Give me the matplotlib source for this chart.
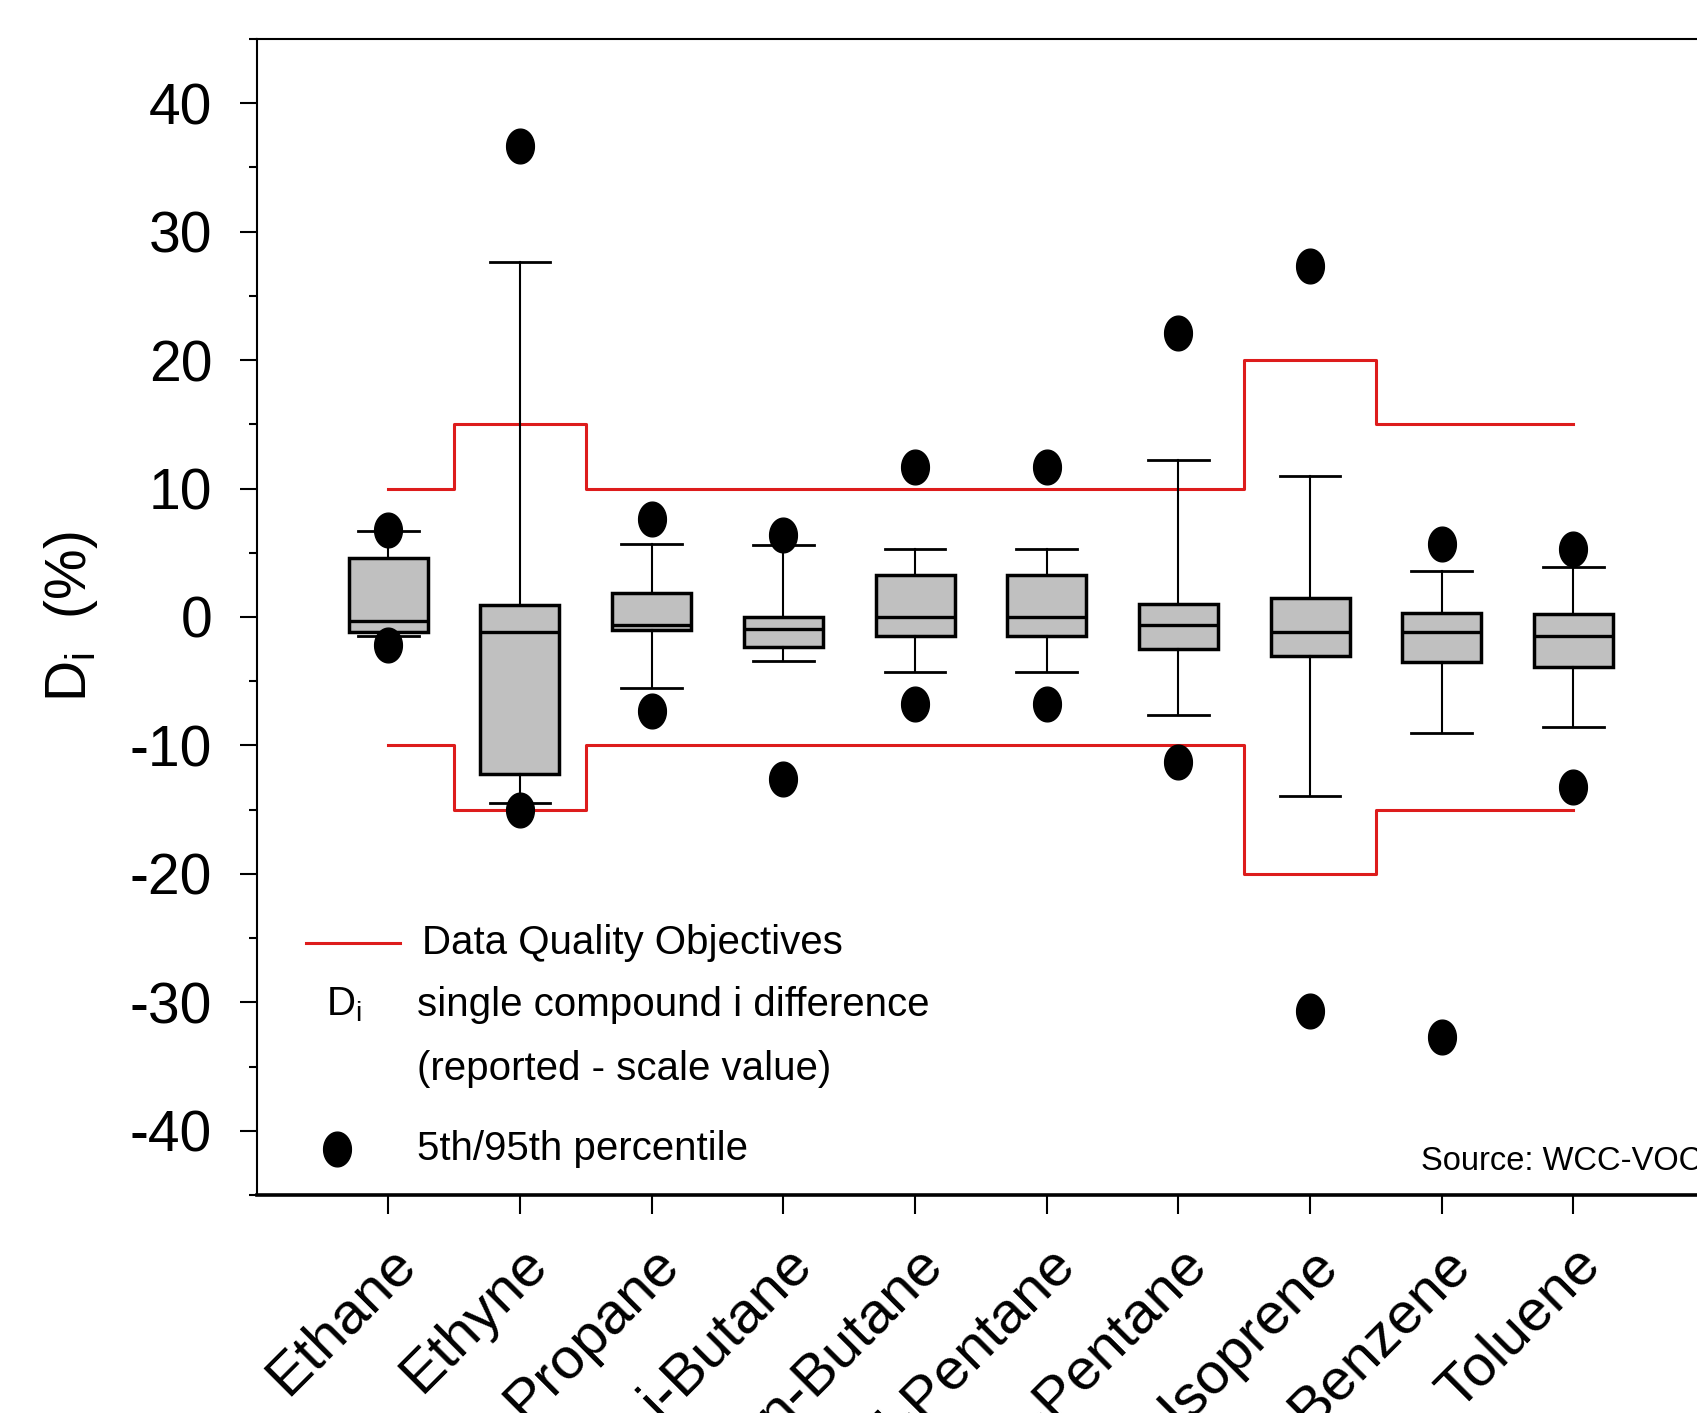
import numpy as np
import matplotlib
matplotlib.use("Agg")
import matplotlib.pyplot as plt
from matplotlib import font_manager
from matplotlib.path import Path
from matplotlib.ticker import MultipleLocator

compounds = ["Ethane", "Ethyne", "Propane", "i-Butane", "n-Butane",
             "i-Pentane", "n-Pentane", "Isoprene", "Benzene", "Toluene"]
whis_lo = [-1.5, -14.5, -5.5, -3.4, -4.3, -4.3, -7.6, -13.9, -9.0, -8.6]
q1 = [-1.2, -12.2, -1.0, -2.3, -1.5, -1.5, -2.5, -3.0, -3.5, -3.9]
median = [-0.3, -1.2, -0.6, -0.9, 0.0, 0.0, -0.6, -1.2, -1.2, -1.5]
q3 = [4.6, 0.9, 1.9, 0.0, 3.3, 3.3, 1.0, 1.5, 0.3, 0.2]
whis_hi = [6.7, 27.6, 5.7, 5.6, 5.3, 5.3, 12.2, 11.0, 3.6, 3.9]
p5 = [-2.2, -15.0, -7.3, -12.6, -6.8, -6.8, -11.3, -30.7, -32.7, -13.2]
p95 = [6.8, 36.7, 7.6, 6.4, 11.7, 11.7, 22.1, 27.3, 5.7, 5.3]
dqo = [10, 15, 10, 10, 10, 10, 10, 20, 15, 15]

names = {f.name for f in font_manager.fontManager.ttflist}
narrow = "Liberation Sans Narrow" if "Liberation Sans Narrow" in names else None
plt.rcParams["font.family"] = ["Liberation Sans", "DejaVu Sans"]
plt.rcParams["axes.unicode_minus"] = False
legfont = dict(family=[narrow, "DejaVu Sans"], fontsize=35) if narrow else dict(fontsize=29)
srcfont = dict(family=[narrow, "DejaVu Sans"], fontsize=28) if narrow else dict(fontsize=23.5)

red = "#dd1c1c"
t = np.linspace(0, 2 * np.pi, 60)
dot = Path(np.column_stack([0.8 * np.cos(t), np.sin(t)]))

fig = plt.figure(figsize=(16.97, 14.13), dpi=100)
ax = fig.add_axes([0.1512, 0.1543, 0.8536, 0.8181])

pos = np.arange(1, len(compounds) + 1)
stats = [dict(med=median[i], q1=q1[i], q3=q3[i], whislo=whis_lo[i], whishi=whis_hi[i],
              fliers=[p5[i], p95[i]]) for i in range(len(compounds))]
ax.bxp(stats, positions=pos, widths=0.6, capwidths=0.46, patch_artist=True,
       boxprops=dict(facecolor="#c0c0c0", edgecolor="black", linewidth=2.5),
       medianprops=dict(color="black", linewidth=2.4),
       whiskerprops=dict(color="black", linewidth=1.5),
       capprops=dict(color="black", linewidth=2.0),
       flierprops=dict(marker=dot, markersize=25, markerfacecolor="black",
                       markeredgecolor="black", linestyle="none"),
       zorder=3)

ax.step(pos, dqo, where="mid", color=red, lw=2.2, zorder=2)
ax.step(pos, -np.array(dqo), where="mid", color=red, lw=2.2, zorder=2)

ax.set_xlim(0, 11)
ax.set_ylim(-45, 45)
ax.set_xticks(pos)
ax.set_xticklabels(compounds, rotation=45, ha="right", va="top",
                   rotation_mode="anchor", fontsize=42)
ax.yaxis.set_major_locator(MultipleLocator(10))
ax.yaxis.set_minor_locator(MultipleLocator(5))
ax.tick_params(axis="y", which="major", length=12, width=1.5, labelsize=41, pad=20)
ax.tick_params(axis="y", which="minor", length=6, width=1.5)
ax.tick_params(axis="x", length=14, width=1.5, pad=16)
ax.spines["right"].set_visible(False)
ax.spines["left"].set_linewidth(1.5)
ax.spines["top"].set_linewidth(1.5)
ax.spines["bottom"].set_linewidth(2.6)

ax.set_ylabel(r"D$_\mathregular{i}$  (%)", fontsize=41)
ax.yaxis.set_label_coords(-0.108, 0.5)

# legend drawn by hand
ax.plot([0.375, 1.09], [-25.4, -25.4], color=red, lw=2.2)
ax.text(1.255, -25.4, "Data Quality Objectives", va="center", **legfont)
ax.text(0.53, -30.2, r"D$_\mathregular{i}$", va="center", **legfont)
ax.text(1.22, -30.2, "single compound i difference", va="center", **legfont)
ax.text(1.22, -35.2, "(reported - scale value)", va="center", **legfont)
ax.plot([0.61], [-41.4], marker=dot, markersize=25, color="black", linestyle="none")
ax.text(1.22, -41.4, "5th/95th percentile", va="center", **legfont)
ax.text(8.84, -42.4, "Source: WCC-VOC", va="center", clip_on=False, **srcfont)

fig.savefig("out.png", dpi=100)
